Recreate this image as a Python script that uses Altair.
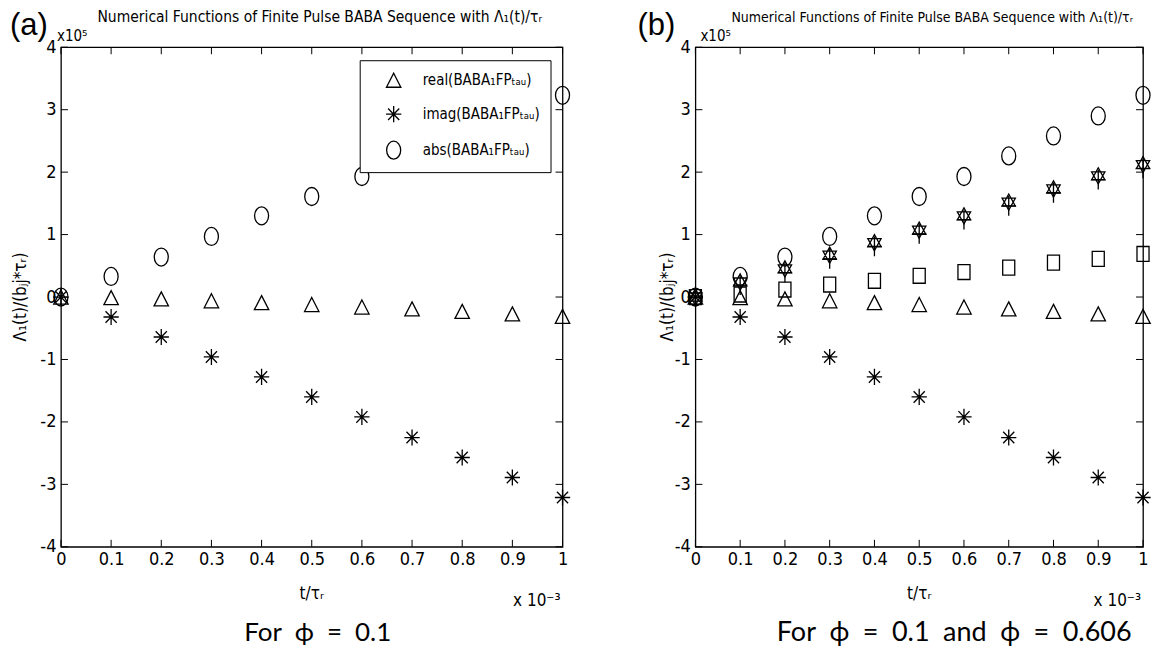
import altair as alt
import pandas as pd

# ---------------- data (t in units of 1e-3, values in units of 1e5) ----------------
t_vals = [0.0, 0.1, 0.2, 0.3, 0.4, 0.5, 0.6, 0.7, 0.8, 0.9, 1.0]
real_phi01 = [0.0, -0.01, -0.03, -0.06, -0.09, -0.12, -0.16, -0.19, -0.23, -0.27, -0.31]
imag_phi01 = [0.0, -0.32, -0.64, -0.96, -1.28, -1.60, -1.92, -2.25, -2.57, -2.89, -3.21]
abs_phi01 = [0.0, 0.33, 0.64, 0.97, 1.30, 1.61, 1.93, 2.26, 2.58, 2.90, 3.23]
real_phi0606 = [0.0, 0.04, 0.12, 0.20, 0.26, 0.34, 0.40, 0.47, 0.55, 0.61, 0.69]
imag_phi0606 = [0.0, 0.19, 0.39, 0.61, 0.81, 1.01, 1.24, 1.46, 1.67, 1.88, 2.06]
abs_phi0606 = [0.0, 0.24, 0.45, 0.67, 0.87, 1.07, 1.30, 1.52, 1.73, 1.94, 2.12]

x_ticks = [0.0, 0.1, 0.2, 0.3, 0.4, 0.5, 0.6, 0.7, 0.8, 0.9, 1.0]
y_ticks = [-4, -3, -2, -1, 0, 1, 2, 3, 4]

names_a = ["real(BABA₁FPₜₐᵤ)", "imag(BABA₁FPₜₐᵤ)", "abs(BABA₁FPₜₐᵤ)"]
names_b = ["real ϕ=0.1", "imag ϕ=0.1", "abs ϕ=0.1", "real ϕ=0.606", "imag ϕ=0.606", "abs ϕ=0.606"]

title_text = "Numerical Functions of Finite Pulse BABA Sequence with Λ₁(t)/τᵣ"
ylabel_text = "Λ₁(t)/(bⱼj*τᵣ)"
xlabel_text = "t/τᵣ"
yexp_text = "x10⁵"
xexp_text = "x 10⁻³"
caption_a = "For\u2002ϕ\u2002=\u20020.1"
caption_b = "For\u2002ϕ\u2002=\u20020.1\u2002and\u2002ϕ\u2002=\u20020.606"

# ---------------- marker shapes (MATLAB-like, unfilled) ----------------
TRI = "M0,-0.78L0.8,0.78L-0.8,0.78Z"
STAR = "M0,-0.9L0,0.9M-0.85,0L0.85,0M-0.62,-0.64L0.62,0.64M-0.62,0.64L0.62,-0.64"
CIRC = "M-0.78,0A0.78,1,0,1,1,0.78,0A0.78,1,0,1,1,-0.78,0Z"
SQ = "M-0.67,-0.83L0.67,-0.83L0.67,0.83L-0.67,0.83Z"
PLUS = "M-0.8,0L0.8,0M0,-1.1L0,1.1"
HEX = "M0,-0.9L0.74,0.45L-0.74,0.45ZM0,0.9L0.74,-0.45L-0.74,-0.45Z"

NARROW = "Liberation Sans Narrow, DejaVu Sans Condensed, Liberation Sans, sans-serif"
SANS = "Liberation Sans, Arial, sans-serif"
CAPFONT = "Lato, Noto Sans, DejaVu Sans, sans-serif"

H = 500
TICK = 7


def long_df(names, series):
    rows = []
    for n, vals in zip(names, series):
        for t, v in zip(t_vals, vals):
            rows.append({"t": t, "y": v, "series": n})
    return pd.DataFrame(rows)


def txt(s, x, y, size, font, align="left", baseline="alphabetic", angle=0):
    return alt.Chart(pd.DataFrame({"s": [s]})).mark_text(
        text=s, font=font, fontSize=size, align=align, baseline=baseline,
        angle=angle, color="black"
    ).encode(x=alt.value(x), y=alt.value(y))


def panel(W, names, series, shapes, legend, tag, left_ext, title_cx, title_size,
          ylab_x, yexp_x, cap_text, cap_cx, cap_size):
    xscale = alt.Scale(domain=[0, 1], nice=False, zero=False)
    yscale = alt.Scale(domain=[-4, 4], nice=False, zero=False)
    xaxis = alt.Axis(values=x_ticks, labelExpr="'' + datum.value", title=None,
                     ticks=False, tickSize=0, domain=False, grid=False,
                     labelFlush=False, labelOverlap=False, labelPadding=4,
                     labelFont=NARROW, labelFontSize=18, labelColor="black")
    yaxis = alt.Axis(values=y_ticks, labelExpr="'' + datum.value", title=None,
                     ticks=False, tickSize=0, domain=False, grid=False,
                     labelFlush=False, labelOverlap=False, labelPadding=5,
                     labelFont=NARROW, labelFontSize=18, labelColor="black")
    X = lambda f: alt.X(f, scale=xscale, axis=xaxis)
    Y = lambda f: alt.Y(f, scale=yscale, axis=yaxis)

    df = long_df(names, series)
    pts = alt.Chart(df).mark_point(
        filled=False, color="black", strokeWidth=1.3, size=324, opacity=1
    ).encode(
        x=X("t:Q"), y=Y("y:Q"),
        shape=alt.Shape("series:N", scale=alt.Scale(domain=names, range=shapes),
                        legend=legend),
    )

    xt = pd.DataFrame({"t": x_ticks})
    yt = pd.DataFrame({"y": y_ticks})
    rule = dict(color="black", strokeWidth=1)
    tb = alt.Chart(xt).mark_rule(**rule).encode(x=X("t:Q"), y=alt.value(H), y2=alt.value(H - TICK))
    tt = alt.Chart(xt).mark_rule(**rule).encode(x=X("t:Q"), y=alt.value(0), y2=alt.value(TICK))
    tl = alt.Chart(yt).mark_rule(**rule).encode(y=Y("y:Q"), x=alt.value(0), x2=alt.value(TICK))
    tr = alt.Chart(yt).mark_rule(**rule).encode(y=Y("y:Q"), x=alt.value(W), x2=alt.value(W - TICK))

    anchor = alt.Chart(xt).mark_rule(opacity=0, strokeOpacity=0).encode(
        x=alt.value(-left_ext), x2=alt.value(W + 8), y=alt.value(-38), y2=alt.value(-38))

    texts = [
        txt(tag, -left_ext + 1, -12, 31, SANS),
        txt(title_text, title_cx, -25, title_size, NARROW, align="center"),
        txt(yexp_text, yexp_x, -6, 15, NARROW),
        txt(ylabel_text, ylab_x, H / 2, 17, NARROW, align="center", baseline="middle", angle=270),
        txt(xlabel_text, W / 2, H + 52, 17, NARROW, align="center"),
        txt(xexp_text, W - 2, H + 59, 17, NARROW, align="right"),
        txt(cap_text, cap_cx, H + 94, cap_size, CAPFONT, align="center"),
    ]
    return alt.layer(anchor, tb, tt, tl, tr, pts, *texts).properties(width=W, height=H)


legend_a = alt.Legend(
    title=None, orient="none", legendX=299, legendY=13, padding=10,
    strokeColor="black", fillColor="white",
    labelFont=NARROW, labelFontSize=15, labelColor="black", labelLimit=300,
    symbolSize=324, symbolOffset=14, labelOffset=19, rowPadding=13,
    symbolStrokeColor="black", symbolStrokeWidth=1.3, symbolFillColor="transparent",
)

pa = panel(502, names_a, [real_phi01, imag_phi01, abs_phi01], [TRI, STAR, CIRC],
           legend_a, "(a)", 52, 259, 15.5, -40, -4, caption_a, 257, 26)
pb = panel(448, names_b,
           [real_phi01, imag_phi01, abs_phi01, real_phi0606, imag_phi0606, abs_phi0606],
           [TRI, STAR, CIRC, SQ, PLUS, HEX],
           None, "(b)", 59, 237, 14, -27, 5, caption_b, 259, 27)

chart = alt.hconcat(pa, pb, spacing=62).resolve_scale(shape="independent").properties(
    padding={"left": 0, "top": 0, "right": 0, "bottom": 0}, background="white"
).configure_view(stroke="black", strokeWidth=1.3)

chart.save("out.html", embed_options={"renderer": "svg", "actions": False})
